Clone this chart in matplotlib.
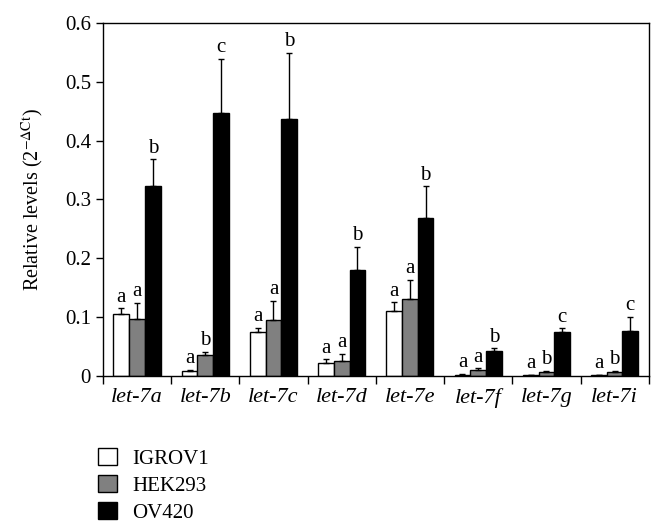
import numpy as np
import matplotlib
matplotlib.use("Agg")
import matplotlib.pyplot as plt
from matplotlib.patches import Patch

plt.rcParams['font.family'] = ['Liberation Serif', 'DejaVu Serif']
plt.rcParams['mathtext.fontset'] = 'stix'

# --- データ ---
genes = ['let-7a', 'let-7b', 'let-7c', 'let-7d', 'let-7e', 'let-7f', 'let-7g', 'let-7i']
cells = ['IGROV1', 'HEK293', 'OV420']

igrov1 = [0.106, 0.008, 0.074, 0.022, 0.110, 0.002, 0.001, 0.001]
hek293 = [0.096, 0.036, 0.095, 0.026, 0.131, 0.010, 0.007, 0.007]
ov420 = [0.322, 0.446, 0.437, 0.180, 0.268, 0.043, 0.075, 0.077]

igrov1_err = [0.009, 0.002, 0.008, 0.006, 0.015, 0.001, 0.001, 0.001]
hek293_err = [0.028, 0.005, 0.032, 0.011, 0.032, 0.003, 0.002, 0.002]
ov420_err = [0.046, 0.093, 0.112, 0.039, 0.054, 0.004, 0.006, 0.024]

igrov1_sig = ['a', 'a', 'a', 'a', 'a', 'a', 'a', 'a']
hek293_sig = ['a', 'b', 'a', 'a', 'a', 'a', 'b', 'b']
ov420_sig = ['b', 'c', 'b', 'b', 'b', 'b', 'c', 'c']

colors = ['white', '#808080', 'black']

fig = plt.figure(figsize=(6.64, 5.31), dpi=100)
ax = fig.add_axes([0.155, 0.292, 0.822, 0.665])

x = np.arange(len(genes))
w = 0.23
series = [(igrov1, igrov1_err, igrov1_sig), (hek293, hek293_err, hek293_sig),
          (ov420, ov420_err, ov420_sig)]

for i, (vals, errs, sigs) in enumerate(series):
    pos = x + (i - 1) * w
    ax.bar(pos, vals, w, color=colors[i], edgecolor='black', linewidth=1.0,
           yerr=[np.zeros(len(vals)), errs],
           error_kw=dict(ecolor='black', elinewidth=1.0, capsize=2.5, capthick=1.0),
           zorder=2)
    for p, v, e, s in zip(pos, vals, errs, sigs):
        ax.text(p, v + e + 0.003, s, ha='center', va='bottom', fontsize=15)

ax.set_xlim(-0.5, len(genes) - 0.5)
ax.set_ylim(0, 0.6)
ax.set_yticks(np.arange(0, 0.61, 0.1))
ax.set_yticklabels(['0', '0.1', '0.2', '0.3', '0.4', '0.5', '0.6'])
ax.tick_params(axis='y', labelsize=15, direction='out', length=5, width=1)

# カテゴリ境界に目盛り、ラベルは中央
ax.set_xticks(np.arange(-0.5, len(genes), 1.0))
ax.set_xticklabels([])
ax.set_xticks(x, minor=True)
ax.set_xticklabels(genes, minor=True, fontstyle='italic', fontsize=16)
ax.tick_params(axis='x', which='major', direction='out', length=6, width=1)
ax.tick_params(axis='x', which='minor', length=0, pad=9)

for sp in ax.spines.values():
    sp.set_linewidth(1.0)

ax.set_ylabel(r'Relative levels (2$^{-\Delta\mathrm{Ct}}$)', fontsize=14.5, labelpad=14)

handles = [Patch(facecolor=c, edgecolor='black', linewidth=1.0) for c in colors]
fig.legend(handles, cells, loc='upper left', bbox_to_anchor=(0.135, 0.172),
           frameon=False, fontsize=15, handlelength=0.9, handleheight=0.9,
           labelspacing=0.3, handletextpad=0.75, borderaxespad=0)

fig.savefig('out.png', dpi=100)
